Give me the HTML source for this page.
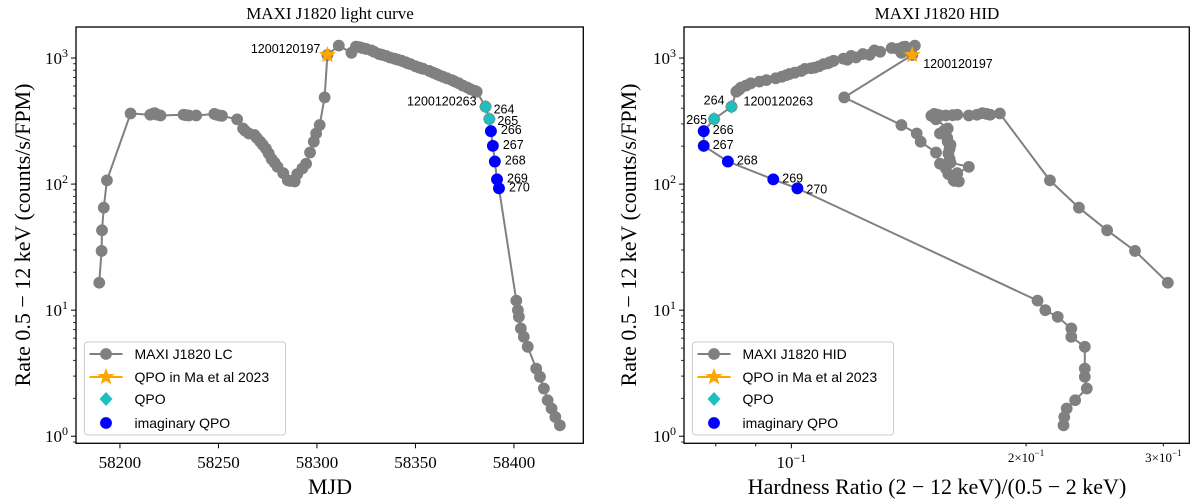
<!DOCTYPE html>
<html><head><meta charset="utf-8"><style>
body{margin:0;background:#fff;}
svg{display:block;}
text{font-family:"Liberation Serif",serif;fill:#000;}
.sans{font-family:"Liberation Sans",sans-serif;}
</style></head><body>
<svg id="fig" width="1200" height="503" viewBox="0 0 1200 503" xmlns="http://www.w3.org/2000/svg"></svg>
<script>
// ---- gray series data ----
const mjd = [58189.5,58190.7,58190.9,58191.8,58193.4,58205.4,58215.4,58216.5,58217.7,58219,58220.6,58232.3,58233.5,58235,58238.7,58247.9,58249,58250.5,58251.8,58259.5,58262.5,58263.5,58265.4,58268.3,58269.5,58271.2,58272.5,58274.1,58275.5,58277,58278.5,58280,58282.9,58285.2,58286.5,58288.7,58290,58292.6,58294.5,58296.5,58298.4,58299.6,58301.4,58303.9,58305.3,58311.1,58317.5,58319.8,58321.5,58323,58325,58327.6,58329,58331.5,58333,58335,58337,58339.3,58341,58343,58345,58346.1,58347.5,58350,58351.9,58353,58354,58357,58359,58360.7,58362,58364,58366,58368.5,58370,58372,58374,58376.3,58378,58380,58381.1,58385.6,58387.5,58388.3,58389.3,58390.3,58391.4,58392.4,58401.2,58402,58402.5,58403.5,58405,58407,58411.3,58413.2,58415.2,58417.1,58419.1,58421,58423.3];
const rate = [16.5,29.5,43,65,107,363,355,360,365,355,350,355,352,350,350,360,355,350,348,326,276,265,252,245,232,217,205,191,175,158,148,137,122,107,106,105,120,133,145,178,217,252,294,487,1057,1254,1100,1230,1220,1200,1180,1150,1120,1075,1060,1040,1010,988,970,950,925,907,895,860,838,830,820,790,765,746,730,710,690,668,650,630,605,584,565,550,541,411,328,263,201,151,109,92.5,11.9,10.0,8.85,7.16,6.14,5.12,3.44,2.96,2.39,1.93,1.66,1.42,1.22];
const hr = [0.3040,0.2759,0.2541,0.2338,0.2146,0.1851,0.1799,0.1780,0.1758,0.1730,0.1689,0.1632,0.1610,0.1578,0.1551,0.1525,0.1540,0.1520,0.1512,0.1533,0.1587,0.1570,0.1551,0.1578,0.1585,0.1587,0.1600,0.1596,0.1590,0.1596,0.1600,0.1689,0.1632,0.1615,0.1620,0.1640,0.1590,0.1578,0.1551,0.1533,0.1465,0.1448,0.1384,0.1169,0.1429,0.1440,0.1384,0.1400,0.1390,0.1345,0.1370,0.1278,0.1300,0.1235,0.1260,0.1193,0.1210,0.1166,0.1180,0.1133,0.1120,0.1114,0.1100,0.1085,0.1071,0.1060,0.1041,0.1030,0.1010,0.0994,0.0985,0.0972,0.0955,0.0929,0.0910,0.0887,0.0875,0.0862,0.0858,0.0853,0.0850,0.0838,0.0796,0.0772,0.0772,0.0829,0.0948,0.1018,0.2069,0.2117,0.2196,0.2286,0.2286,0.2379,0.2379,0.2379,0.2393,0.2312,0.2255,0.2239,0.2234];
// ---- marker data ----
const starMjd = [58305.3];
const starRate = [1057];
const starHr = [0.1429];
const starLabels = ["1200120197"];
const qpoMjd = [58385.6,58387.5];
const qpoRate = [411,328];
const qpoHr = [0.0838,0.0796];
const qpoLabels = ["264","265"];
const imagMjd = [58388.3,58389.3,58390.3,58391.4,58392.4];
const imagRate = [263,201,151,109,92.5];
const imagHr = [0.0772,0.0772,0.0829,0.0948,0.1018];
const imagLabels = ["266","267","268","269","270"];
const mjdTicks = [58200,58250,58300,58350,58400];
const hrTicks = [0.1,0.2,0.3];
const hrTickLabels = ["10","2\u00d710","3\u00d710"];
const hrMinor = [0.08,0.09,0.4];

const NS="http://www.w3.org/2000/svg";
const svg=document.getElementById('fig');
function el(tag,attrs,parent){const e=document.createElementNS(NS,tag);for(const k in attrs)e.setAttribute(k,attrs[k]);(parent||svg).appendChild(e);return e;}

const T=27, B=443.3, ymin=-0.056, ymax=3.246;
function yS(v){return B-(Math.log10(v)-ymin)/(ymax-ymin)*(B-T);}
const L1=76,R1=583.3, xmin1=58177.7, xmax1=58435.2;
function xS1(v){return L1+(v-xmin1)/(xmax1-xmin1)*(R1-L1);}
const L2=684,R2=1189.3, lxmin=Math.log10(0.07283), lxmax=Math.log10(0.3239);
function xS2(v){return L2+(Math.log10(v)-lxmin)/(lxmax-lxmin)*(R2-L2);}

function starPath(cx,cy,r){let p='';for(let i=0;i<10;i++){const a=-Math.PI/2+i*Math.PI/5;const rr=i%2?r*0.42:r;p+=(i?'L':'M')+(cx+rr*Math.cos(a)).toFixed(1)+' '+(cy+rr*Math.sin(a)).toFixed(1);}return p+'Z';}
const MR=5.9;

function panel(p){
  const g=el('g',{});
  
  
  const t=el('text',{x:p.tx,y:19,'text-anchor':'middle','font-size':17},g);t.textContent=p.title;
  
  for(let d=0;d<=3;d++){
    const y=yS(10**d);
    el('line',{x1:p.L-5,x2:p.L,y1:y,y2:y,stroke:'#000','stroke-width':1},g);
    const tx=el('text',{x:p.L-8,y:y+6,'text-anchor':'end','font-size':17},g);
    
    tx.innerHTML='10<tspan dy="-7" font-size="12">'+d+'</tspan>';
    for(let m=2;m<=9;m++){const v=m*10**d;if(Math.log10(v)>ymax)break;const ym=yS(v);el('line',{x1:p.L-3,x2:p.L,y1:ym,y2:ym,stroke:'#000','stroke-width':0.8},g);}
  }
  el('line',{x1:p.L-3,x2:p.L,y1:yS(0.9),y2:yS(0.9),stroke:'#000','stroke-width':0.8},g);
  const yl=el('text',{x:0,y:0,'text-anchor':'middle','font-size':22,transform:`translate(${p.ylx},235) rotate(-90)`},g);
  yl.textContent='Rate 0.5 \u2212 12 keV (counts/s/FPM)';
  
  const xl=el('text',{x:p.tx,y:494,'text-anchor':'middle','font-size':22},g);
  xl.textContent=p.xlabel;
  
  p.xticks(g);
  // gray series
  const pts=p.xs.map((x,i)=>[p.xf(x),yS(rate[i])]);
  const pl=el('polyline',{points:pts.map(q=>q[0].toFixed(1)+','+q[1].toFixed(1)).join(' '),fill:'none',stroke:'#808080','stroke-width':2},g);
  
  pts.forEach(q=>{const c=el('circle',{cx:q[0],cy:q[1],r:MR,fill:'#808080'},g);
    });
  // star
  p.sx.forEach((sv,k)=>{const x=p.xf(sv),y=yS(starRate[k]);
    const s=el('path',{d:starPath(x,y,9),fill:'#ffa500'},g);
    
    const lt=el('text',{'font-size':12.5,fill:'#ffa500',class:'sans'},g);lt.textContent=starLabels[k];
    
    if(p.right){lt.setAttribute('x',x+11);lt.setAttribute('y',y+13);}else{lt.setAttribute('x',x-7);lt.setAttribute('y',y-2);lt.setAttribute('text-anchor','end');}
  });
  p.qx.forEach((qv,k)=>{const x=p.xf(qv),y=yS(qpoRate[k]);
    const d=el('path',{d:`M${x} ${y-7}L${x+6.5} ${y}L${x} ${y+7}L${x-6.5} ${y}Z`,fill:'#1fbfbf'},g);
    
    const lt=el('text',{'font-size':12.5,fill:'#1fbfbf',class:'sans'},g);lt.textContent=qpoLabels[k];
    
    if(p.right){lt.setAttribute('x',x-7);lt.setAttribute('y',k==0?y-2:y+5);lt.setAttribute('text-anchor','end');}
    else{lt.setAttribute('x',x+8);lt.setAttribute('y',k==0?y+7:y+6);}
    if(k==0){const ot=el('text',{'font-size':12.5,fill:'#1fbfbf',class:'sans'},g);ot.textContent='1200120263';
      
      if(p.right){ot.setAttribute('x',x+12);ot.setAttribute('y',y-1);}else{ot.setAttribute('x',x-9);ot.setAttribute('y',y-1);ot.setAttribute('text-anchor','end');}}
  });
  p.ix.forEach((iv,k)=>{const x=p.xf(iv),y=yS(imagRate[k]);
    const c=el('circle',{cx:x,cy:y,r:MR,fill:'#0000ff'},g);
    
    const lt=el('text',{x:x+(p.right?9:10),y:y+(k==4&&p.right?5:3),'font-size':12.5,fill:'#0000ff',class:'sans'},g);lt.textContent=imagLabels[k];
    
  });
  // legend
  const lx=p.L+8.5;
  const lg=el('g',{},g);
  el('rect',{x:lx,y:342,width:201,height:93,rx:3,fill:'#fff','fill-opacity':0.85,stroke:'#ccc','stroke-width':1},lg);
  const rows=[p.legend0,'QPO in Ma et al 2023','QPO','imaginary QPO'];
  const ys=[354,377,399,423];
  el('line',{x1:lx+5,x2:lx+38,y1:ys[0],y2:ys[0],stroke:'#808080','stroke-width':2},lg);
  el('circle',{cx:lx+21.5,cy:ys[0],r:MR,fill:'#808080'},lg);
  el('line',{x1:lx+5,x2:lx+38,y1:ys[1],y2:ys[1],stroke:'#ffa500','stroke-width':2},lg);
  el('path',{d:starPath(lx+21.5,ys[1],9),fill:'#ffa500'},lg);
  el('path',{d:`M${lx+21.5} ${ys[2]-7}L${lx+28} ${ys[2]}L${lx+21.5} ${ys[2]+7}L${lx+15} ${ys[2]}Z`,fill:'#1fbfbf'},lg);
  el('circle',{cx:lx+21.5,cy:ys[3],r:MR,fill:'#0000ff'},lg);
  rows.forEach((r,k)=>{const t=el('text',{x:lx+50,y:ys[k]+5,'font-size':14,class:'sans'},lg);t.textContent=r;
    });
  el('rect',{x:p.L,y:T,width:p.R-p.L,height:B-T,fill:'none',stroke:'#000','stroke-width':1.3},g);
}

panel({name:'light-curve-panel',title:'MAXI J1820 light curve',tx:330,L:L1,R:R1,ylx:30,xlabel:'MJD',xs:mjd,xf:xS1,sx:starMjd,qx:qpoMjd,ix:imagMjd,right:false,legend0:'MAXI J1820 LC',
  xticks:(g)=>{mjdTicks.forEach(v=>{const x=xS1(v);el('line',{x1:x,x2:x,y1:B,y2:B+5,stroke:'#000'},g);
    const t=el('text',{x:x,y:468,'text-anchor':'middle','font-size':17},g);t.textContent=v;
    });}});
panel({name:'hid-panel',title:'MAXI J1820 HID',tx:937,L:L2,R:R2,ylx:636,xlabel:'Hardness Ratio (2 \u2212 12 keV)/(0.5 \u2212 2 keV)',xs:hr,xf:xS2,sx:starHr,qx:qpoHr,ix:imagHr,right:true,legend0:'MAXI J1820 HID',
  xticks:(g)=>{hrTicks.forEach((v,k)=>{const x=xS2(v);el('line',{x1:x,x2:x,y1:B,y2:B+(k?3:5),stroke:'#000'},g);
    const t=el('text',{x:x,y:k?462:468,'text-anchor':'middle','font-size':k?13:17},g);
    t.innerHTML=hrTickLabels[k]+'<tspan dy="-6" font-size="'+(k?9:12)+'">\u22121</tspan>';
    });
    hrMinor.forEach(v=>{const x=xS2(v);if(x<=R2)el('line',{x1:x,x2:x,y1:B,y2:B+3,stroke:'#000'},g);});}});
</script>
</body></html>
